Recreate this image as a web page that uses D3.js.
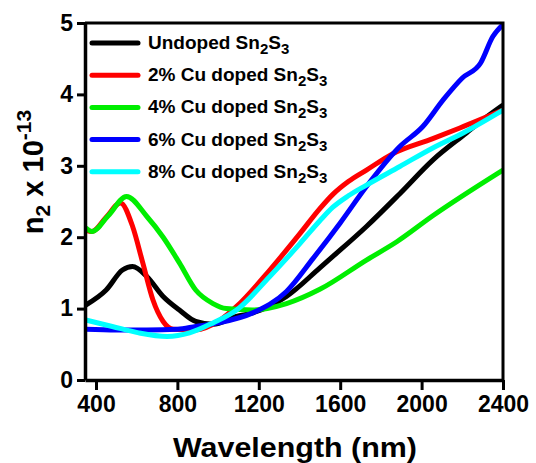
<!DOCTYPE html>
<html>
<head>
<meta charset="utf-8">
<script src="https://cdn.jsdelivr.net/npm/d3@7"></script>
<style>
  body { margin: 0; background: #fff; }
  text { font-family: "Liberation Sans", Arial, sans-serif; font-weight: bold; fill: #000; }
</style>
</head>
<body>
<div id="chart"></div>
<script>
// wavelength (nm) / n2 (x 1e-13) readings per sample
const undopedWl = [350, 450, 530, 580, 650, 730, 810, 890, 975, 1090, 1170, 1336, 1500, 1564, 1729, 1893, 2055, 2220, 2290, 2400];
const undopedN2 = [1.05, 1.26, 1.54, 1.59, 1.45, 1.17, 0.98, 0.82, 0.78, 0.89, 0.94, 1.17, 1.57, 1.73, 2.15, 2.61, 3.08, 3.46, 3.62, 3.85];

const cu2Wl = [350, 380, 450, 520, 580, 630, 680, 730, 780, 890, 1010, 1091, 1254, 1402, 1500, 1564, 1640, 1729, 1859, 2055, 2188, 2400];
const cu2N2 = [2.1, 2.08, 2.28, 2.48, 2.15, 1.64, 1.12, 0.82, 0.71, 0.7, 0.84, 1.03, 1.54, 2.05, 2.4, 2.6, 2.78, 2.94, 3.17, 3.38, 3.53, 3.78];

const cu4Wl = [350, 380, 460, 550, 650, 730, 810, 890, 975, 1040, 1170, 1336, 1500, 1729, 1880, 2055, 2400];
const cu4N2 = [2.13, 2.08, 2.3, 2.57, 2.29, 2.0, 1.64, 1.26, 1.07, 1.0, 0.98, 1.07, 1.27, 1.68, 1.94, 2.3, 2.94];

const cu6Wl = [350, 500, 650, 800, 890, 1000, 1170, 1336, 1466, 1600, 1729, 1893, 2006, 2105, 2200, 2290, 2350, 2400];
const cu6N2 = [0.71, 0.7, 0.7, 0.71, 0.75, 0.8, 0.94, 1.24, 1.7, 2.2, 2.71, 3.27, 3.55, 3.92, 4.23, 4.44, 4.81, 4.98];

const cu8Wl = [350, 480, 610, 750, 860, 975, 1091, 1254, 1402, 1500, 1564, 1640, 1729, 1893, 2055, 2204, 2400];
const cu8N2 = [0.84, 0.75, 0.66, 0.61, 0.66, 0.8, 0.98, 1.45, 1.91, 2.23, 2.42, 2.58, 2.73, 2.99, 3.25, 3.46, 3.78];

const seriesNames = ['Undoped', '2% Cu doped', '4% Cu doped', '6% Cu doped', '8% Cu doped'];
const seriesColors = ['#000000', '#ff0000', '#00ee00', '#0000ff', '#00ffff'];
const xTicks = [400, 800, 1200, 1600, 2000, 2400];
const yTicks = [0, 1, 2, 3, 4, 5];

const series = [
  [undopedWl, undopedN2], [cu2Wl, cu2N2], [cu4Wl, cu4N2], [cu6Wl, cu6N2], [cu8Wl, cu8N2]
].map(([wl, n], i) => ({
  name: seriesNames[i],
  color: seriesColors[i],
  points: wl.map((w, j) => ({ wl: w, n2: n[j] }))
}));

const width = 536, height = 463;
const margin = { top: 23, right: 33, bottom: 83, left: 85 };

const svg = d3.select('#chart').append('svg')
  .attr('width', width)
  .attr('height', height);

const x = d3.scaleLinear().domain([346, 2400]).range([margin.left, width - margin.right]);
const y = d3.scaleLinear().domain([0, 5]).range([height - margin.bottom, margin.top]);

const line = d3.line()
  .curve(d3.curveMonotoneX)
  .x(d => x(d.wl))
  .y(d => y(d.n2));

svg.append('defs').append('clipPath')
  .attr('id', 'clip')
  .append('rect')
  .attr('x', margin.left)
  .attr('y', margin.top - 3)
  .attr('width', width - margin.left - margin.right)
  .attr('height', height - margin.top - margin.bottom + 3);

// legend first so curves draw over it where they meet
const legend = svg.append('g').attr('transform', 'translate(92, 43)');
series.forEach((s, i) => {
  const row = legend.append('g').attr('transform', `translate(0, ${i * 32.2})`);
  row.append('line')
    .attr('x1', 0).attr('x2', 46)
    .attr('stroke', s.color)
    .attr('stroke-width', 5)
    .attr('stroke-linecap', 'round');
  const t = row.append('text')
    .attr('x', 56).attr('y', 6)
    .style('font-size', '19px');
  t.append('tspan').text(s.name === 'Undoped' ? 'Undoped Sn' : s.name + ' Sn');
  t.append('tspan').text('2').style('font-size', '15px').attr('dy', 5);
  t.append('tspan').text('S').attr('dy', -5);
  t.append('tspan').text('3').style('font-size', '15px').attr('dy', 5);
});

svg.append('g')
  .attr('clip-path', 'url(#clip)')
  .selectAll('path.curve')
  .data(series)
  .join('path')
  .attr('class', 'curve')
  .attr('fill', 'none')
  .attr('stroke', d => d.color)
  .attr('stroke-width', 5)
  .attr('stroke-linejoin', 'round')
  .attr('d', d => line(d.points));

// frame on top and right
svg.append('path')
  .attr('d', `M${x.range()[0]},${y(5)}H${x.range()[1]}V${y(0)}`)
  .attr('fill', 'none')
  .attr('stroke', '#000')
  .attr('stroke-width', 3);

const xAxis = d3.axisBottom(x).tickValues(xTicks).tickFormat(d3.format('d'))
  .tickSize(10).tickSizeOuter(0).tickPadding(6);
const yAxis = d3.axisLeft(y).tickValues(yTicks).tickFormat(d3.format('d'))
  .tickSize(8).tickSizeOuter(0).tickPadding(4);

const gx = svg.append('g')
  .attr('transform', `translate(0, ${y(0)})`)
  .call(xAxis);
const gy = svg.append('g')
  .attr('transform', `translate(${margin.left}, 0)`)
  .call(yAxis);

[gx, gy].forEach(g => {
  g.select('.domain').attr('stroke-width', 3.5).attr('stroke', '#000');
  g.selectAll('.tick line').attr('stroke-width', 3).attr('stroke', '#000');
  g.selectAll('.tick text')
    .attr('fill', '#000')
    .style('font-family', '"Liberation Sans", Arial, sans-serif')
    .style('font-weight', 'bold')
    .style('font-size', '23px');
});

svg.append('text')
  .attr('x', 295)
  .attr('y', 457)
  .attr('text-anchor', 'middle')
  .attr('textLength', 244)
  .attr('lengthAdjust', 'spacingAndGlyphs')
  .style('font-size', '28px')
  .text('Wavelength (nm)');

const yl = svg.append('text')
  .attr('transform', `translate(43, 172) rotate(-90)`)
  .attr('text-anchor', 'middle')
  .style('font-size', '29px');
yl.append('tspan').text('n');
yl.append('tspan').text('2').style('font-size', '21px').attr('dy', 7);
yl.append('tspan').text(' x 10').attr('dy', -7);
yl.append('tspan').text('-13').style('font-size', '21px').attr('dy', -12);
</script>
</body>
</html>
